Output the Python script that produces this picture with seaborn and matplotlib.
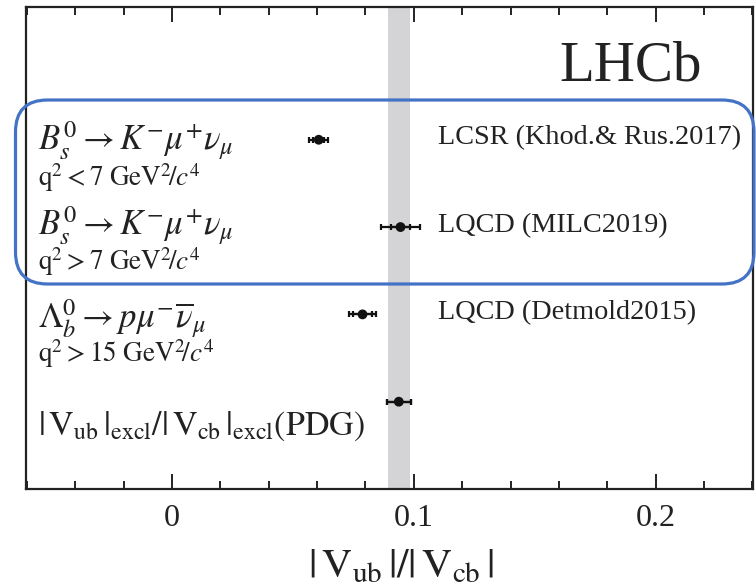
import matplotlib
matplotlib.use("Agg")
import matplotlib.pyplot as plt
from matplotlib.patches import FancyBboxPatch
import numpy as np
import pandas as pd
import seaborn as sns

# |Vub|/|Vcb| results, top row first
rows = [4, 3, 2, 1]
ratio = [0.0607, 0.0945, 0.0788, 0.0938]
err_stat = [0.0023, 0.0039, 0.0040, 0.0050]
err_tot = [0.0039, 0.0081, 0.0057, 0.0050]

decay_labels = [
    r"$B_s^0 \rightarrow K^{-}\mu^{+}\nu_{\mu}$",
    r"$B_s^0 \rightarrow K^{-}\mu^{+}\nu_{\mu}$",
    r"$\mathit{\Lambda}_b^0 \rightarrow p\mu^{-}\overline{\nu}_{\mu}$",
]
q2_labels = [
    r"$\mathrm{q}^2 < 7\ \mathrm{GeV}^2\!/c^4$",
    r"$\mathrm{q}^2 > 7\ \mathrm{GeV}^2\!/c^4$",
    r"$\mathrm{q}^2 > 15\ \mathrm{GeV}^2\!/c^4$",
]
theory_labels = ["LCSR (Khod.& Rus.2017)", "LQCD (MILC2019)", "LQCD (Detmold2015)"]
pdg_label = (r"$|\,\mathrm{V}_{\mathrm{ub}}\,|_{\mathrm{excl}}/"
             r"|\,\mathrm{V}_{\mathrm{cb}}\,|_{\mathrm{excl}}(\mathrm{PDG})$")
band_center, band_half = 0.0938, 0.0045

df = pd.DataFrame({"row": rows, "ratio": ratio})

sns.set_style("white")
plt.rcParams["font.family"] = ["Liberation Serif", "DejaVu Serif"]
plt.rcParams["mathtext.fontset"] = "stix"

fig = plt.figure(figsize=(7.56, 5.86), dpi=100)
ax = fig.add_axes([0.0344, 0.1655, 0.9616, 0.8225])

ax.axvspan(band_center - band_half, band_center + band_half,
           color="#d4d4d6", lw=0, zorder=0)

ax.errorbar(ratio, rows, xerr=err_tot, fmt="none", ecolor="#111111",
            elinewidth=1.6, capsize=2.3, capthick=1.6, zorder=2)
ax.errorbar(ratio, rows, xerr=err_stat, fmt="none", ecolor="#111111",
            elinewidth=1.6, capsize=2.3, capthick=1.6, zorder=2)
sns.scatterplot(data=df, x="ratio", y="row", ax=ax, color="#111111",
                s=50, edgecolor="none", zorder=3, legend=False)

ax.set_xlim(-0.0603, 0.2402)
ax.set_ylim(0, 5.52)
ax.set_yticks([])
ax.set_xticks([0, 0.1, 0.2])
ax.set_xticklabels(["0", "0.1", "0.2"])
ax.set_xticks(np.arange(-0.06, 0.241, 0.02), minor=True)
ax.tick_params(axis="x", which="both", direction="in", top=True, bottom=True,
               width=1.4, color="#222222", labelsize=23, pad=11,
               labelcolor="#222222")
ax.tick_params(axis="x", which="major", length=11)
ax.tick_params(axis="x", which="minor", length=6)
for s in ax.spines.values():
    s.set_linewidth(1.6)
    s.set_color("#222222")

ax.set_xlabel(r"$|\,\mathrm{V}_{\mathrm{ub}}\,|/|\,\mathrm{V}_{\mathrm{cb}}\,|$",
              fontsize=30, color="#222222")
ax.xaxis.set_label_coords(0.516, -0.122)
ax.set_ylabel("")

x_left = -0.0555
decay_base = [3.88, 2.91, 1.84]
q2_base = [3.47, 2.51, 1.45]
for lab, yb in zip(decay_labels, decay_base):
    ax.text(x_left, yb, lab, fontsize=25, va="baseline", ha="left",
            color="#222222")
for lab, yb in zip(q2_labels, q2_base):
    ax.text(x_left, yb, lab, fontsize=19.5, va="baseline", ha="left",
            color="#222222")
for lab, yc in zip(theory_labels, rows[:3]):
    ax.text(0.110, yc + 0.02, lab, fontsize=20.3, va="center", ha="left",
            color="#222222")
ax.text(x_left, 0.62, pdg_label, fontsize=24.5, va="baseline", ha="left",
        color="#222222")
ax.text(0.219, 4.68, "LHCb", fontsize=41, va="baseline", ha="right",
        color="#222222")

# highlight frame around the two Bs rows
box = FancyBboxPatch((0.155, 3.02), 7.385, 1.84,
                     boxstyle="round,pad=0,rounding_size=0.32",
                     transform=fig.dpi_scale_trans, fill=False,
                     edgecolor="#4472C4", linewidth=2.3, zorder=10,
                     clip_on=False)
fig.add_artist(box)

fig.savefig("out.png", dpi=100)
